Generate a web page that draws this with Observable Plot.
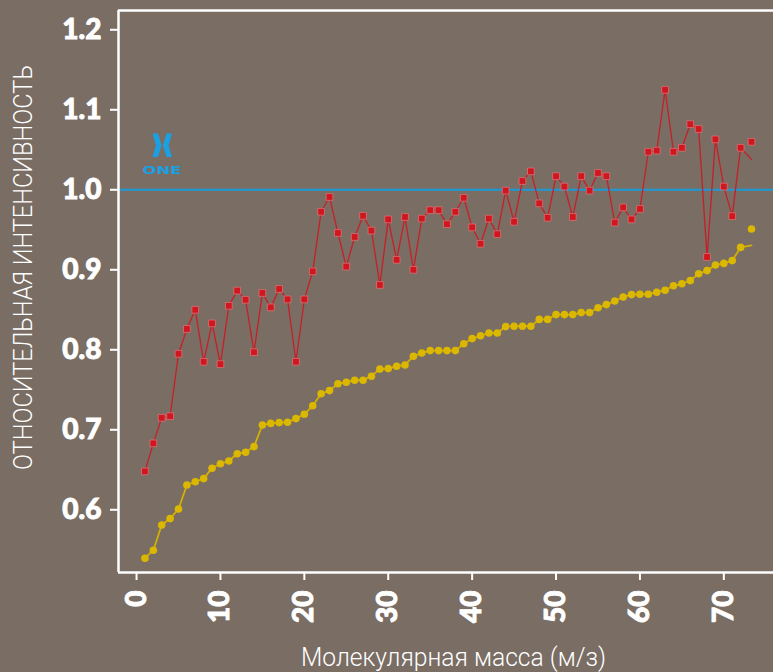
<!DOCTYPE html>
<html><head><meta charset="utf-8">
<script src="https://cdn.jsdelivr.net/npm/d3@7"></script>
<script src="https://cdn.jsdelivr.net/npm/@observablehq/plot@0.6"></script>
<style>
html,body{margin:0;padding:0;background:#796d64;overflow:hidden;}
#chart svg{display:block;}
</style></head><body><div id="chart"></div>
<script>
// ---- data ----
const redValues = [0.648,0.683,0.715,0.717,0.795,0.826,0.850,0.785,0.833,0.782,
  0.855,0.874,0.8625,0.797,0.871,0.853,0.876,0.863,0.785,0.863,
  0.898,0.9725,0.991,0.946,0.904,0.941,0.9675,0.949,0.881,0.963,
  0.9125,0.966,0.900,0.964,0.9745,0.9745,0.957,0.9725,0.990,0.953,
  0.9325,0.964,0.9445,0.999,0.960,1.011,1.023,0.983,0.965,1.017,
  1.004,0.966,1.017,0.999,1.021,1.017,0.959,0.978,0.963,0.976,
  1.0475,1.049,1.125,1.0475,1.0525,1.082,1.076,0.916,1.063,1.004,
  0.967,1.0525];
const redLineEnd = 1.038;
const redLastMarker = 1.060;
const yellowValues = [0.5395,0.5495,0.581,0.589,0.601,0.631,0.635,0.639,0.652,0.6575,
  0.661,0.670,0.672,0.679,0.706,0.708,0.709,0.7095,0.714,0.7195,
  0.730,0.745,0.749,0.7575,0.7595,0.762,0.762,0.767,0.776,0.7765,
  0.7795,0.781,0.792,0.796,0.799,0.799,0.799,0.799,0.8075,0.814,
  0.8175,0.821,0.821,0.829,0.8295,0.8295,0.8295,0.838,0.838,0.844,
  0.844,0.844,0.8465,0.8465,0.8525,0.8565,0.861,0.866,0.869,0.8695,
  0.8695,0.872,0.8745,0.880,0.8825,0.8865,0.895,0.899,0.906,0.908,
  0.9115,0.928];
const yellowLineEnd = 0.9305;
const yellowLastMarker = 0.951;
const lastPosition = 73.3;
const xTicks = [0,10,20,30,40,50,60,70];
const yTicks = [0.6,0.7,0.8,0.9,1.0,1.1,1.2];
const referenceLevel = 1.0;
const xDomain = [-2.15, 75.92];
const yDomain = [0.5216, 1.2241];
const xLabel = "Молекулярная масса (м/з)";
const yLabel = "ОТНОСИТЕЛЬНАЯ ИНТЕНСИВНОСТЬ";
const logoText = "ONE";

// ---- tables built from the arrays ----
const pts = vals => vals.map((v, i) => ({x: i + 1, y: v}));
const redLine = [...pts(redValues), {x: lastPosition, y: redLineEnd}];
const redDots = [...pts(redValues), {x: lastPosition, y: redLastMarker}];
const yellowLine = [...pts(yellowValues), {x: lastPosition, y: yellowLineEnd}];
const yellowDots = [...pts(yellowValues), {x: lastPosition, y: yellowLastMarker}];

const chart = Plot.plot({
  width: 773,
  height: 672,
  marginLeft: 118,
  marginTop: 10,
  marginBottom: 100,
  marginRight: 0,
  style: {background: "transparent", color: "white", fontFamily: "Lato, 'DejaVu Sans', sans-serif", fontSize: "28px", fontWeight: 900},
  x: {domain: xDomain},
  y: {domain: yDomain},
  marks: [
    Plot.ruleY([referenceLevel], {stroke: "#1b9ad8", strokeWidth: 2}),
    Plot.line(yellowLine, {x: "x", y: "y", stroke: "#d4b000", strokeWidth: 1.8}),
    Plot.dot(yellowDots, {x: "x", y: "y", r: 3.8, fill: "#dbb700"}),
    Plot.line(redLine, {x: "x", y: "y", stroke: "#c81f27", strokeWidth: 1.3}),
    Plot.dot(redDots, {x: "x", y: "y", symbol: "square", r: 3.8, fill: "#d0161e", stroke: "#e07a7c", strokeWidth: 0.7}),
    Plot.ruleX([xDomain[0]], {stroke: "white", strokeWidth: 2.5}),
    Plot.ruleY([yDomain[0], yDomain[1]], {stroke: "white", strokeWidth: 2.5}),
    Plot.axisY(yTicks, {tickSize: 8, tickPadding: 9, tickFormat: d3.format(".1f"), strokeWidth: 2, label: null}),
    Plot.axisX(xTicks, {tickSize: 8, tickPadding: 10, tickRotate: -90, strokeWidth: 2, label: null})
  ]
});

const svg = d3.select(chart);
// thicken tick labels a little (heavier geometric face in the reference)
svg.selectAll('g[aria-label$="tick label"] text')
  .attr("stroke", "white").attr("stroke-width", 0.9).attr("paint-order", "stroke");
// axis titles
svg.append("text")
  .attr("transform", "translate(32,267.5) rotate(-90)")
  .attr("text-anchor", "middle")
  .attr("fill", "white")
  .style("font-family", "Roboto, 'DejaVu Sans', sans-serif")
  .style("font-weight", 300)
  .style("font-size", "26px")
  .attr("textLength", 405)
  .attr("lengthAdjust", "spacingAndGlyphs")
  .text(yLabel);
svg.append("text")
  .attr("x", 301).attr("y", 666)
  .attr("text-anchor", "start")
  .attr("fill", "white")
  .style("font-family", "Roboto, 'DejaVu Sans', sans-serif")
  .style("font-weight", 300)
  .style("font-size", "25px")
  .attr("textLength", 305)
  .attr("lengthAdjust", "spacingAndGlyphs")
  .text(xLabel);
// logo
const logo = svg.append("g").attr("fill", "#1aa0e3");
logo.append("path").attr("d", "M152.5,133.5L158,133.5L161.6,145.5L158,157L152.5,157L156,145.5Z");
logo.append("path").attr("d", "M172,133.5L166.5,133.5L162.9,145.5L166.5,157L172,157L168.5,145.5Z");
logo.append("text")
  .attr("x", 142.5).attr("y", 173.5)
  .attr("text-anchor", "start")
  .style("font-family", "'DejaVu Sans', sans-serif")
  .style("font-weight", 700)
  .style("font-size", "11px")
  .attr("textLength", 39)
  .attr("lengthAdjust", "spacingAndGlyphs")
  .text(logoText);

document.getElementById("chart").append(chart);
</script></body></html>
